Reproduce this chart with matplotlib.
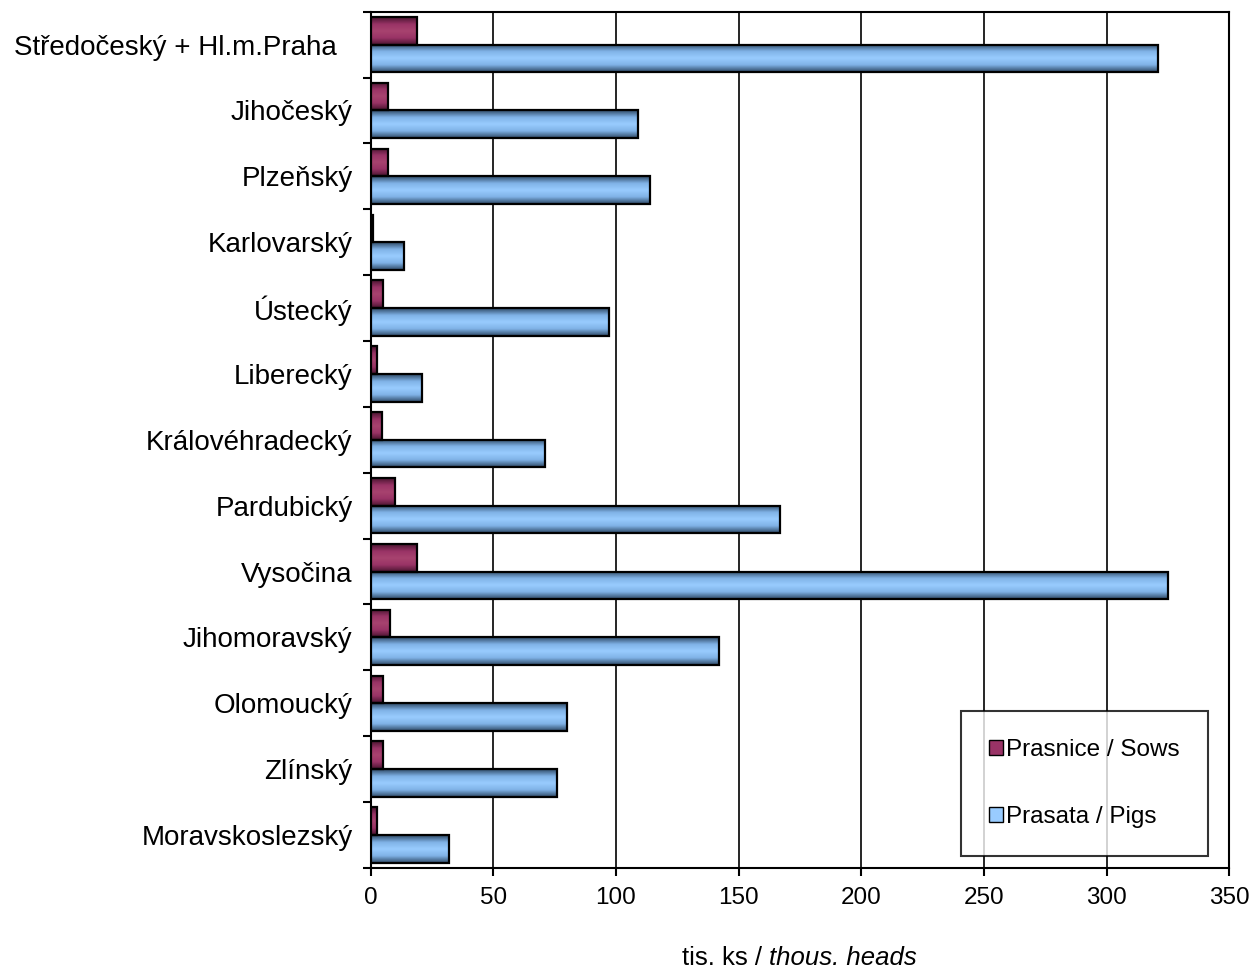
import numpy as np
import matplotlib
matplotlib.use("Agg")
import matplotlib.pyplot as plt
from matplotlib.colors import LinearSegmentedColormap

plt.rcParams['font.family'] = ['Liberation Sans', 'DejaVu Sans']

regions = ["Středočeský + Hl.m.Praha  ", "Jihočeský", "Plzeňský", "Karlovarský",
           "Ústecký", "Liberecký", "Královéhradecký", "Pardubický", "Vysočina",
           "Jihomoravský", "Olomoucký", "Zlínský", "Moravskoslezský"]
sows = [19, 7, 7, 1, 5, 2.5, 4.5, 10, 19, 8, 5, 5, 2.5]
pigs = [321, 109, 114, 13.5, 97, 21, 71, 167, 325, 142, 80, 76, 32]

fig = plt.figure(figsize=(12.52, 9.73), dpi=100)
ax = fig.add_axes([0.296, 0.108, 0.686, 0.88])

y = np.arange(len(regions))
h = 0.42
cm_sows = LinearSegmentedColormap.from_list("s", ["#4a1530", "#993366", "#a8436f", "#993366", "#4a1530"])
cm_pigs = LinearSegmentedColormap.from_list("p", ["#2f4a66", "#7fb2e6", "#99ccff", "#7fb2e6", "#2f4a66"])

b1 = ax.barh(y - h / 2, sows, height=h, facecolor='none', edgecolor='black', linewidth=1.6, zorder=4)
b2 = ax.barh(y + h / 2, pigs, height=h, facecolor='none', edgecolor='black', linewidth=1.6, zorder=4)
grad = np.linspace(0, 1, 64).reshape(-1, 1)
for bars, cm in ((b1, cm_sows), (b2, cm_pigs)):
    for r in bars:
        x0, y0 = r.get_x(), r.get_y()
        ax.imshow(grad, cmap=cm, aspect='auto', zorder=3, interpolation='bilinear',
                  extent=(x0, x0 + r.get_width(), y0 + r.get_height(), y0))

ax.set_xlim(0, 350)
ax.set_ylim(len(regions) - 0.5, -0.5)
ax.set_xticks(np.arange(0, 351, 50))
ax.grid(axis='x', color='black', linewidth=1.2, zorder=1)
ax.set_axisbelow(True)
ax.set_yticks(y)
ax.set_yticklabels(regions, fontsize=20)
ax.set_yticks(np.arange(-0.5, len(regions), 1), minor=True)
ax.tick_params(axis='y', which='major', length=0, pad=13)
ax.tick_params(axis='y', which='minor', length=6, width=1.5)
ax.tick_params(axis='x', labelsize=17.5, length=6, width=1.5, pad=8)
for s in ax.spines.values():
    s.set_linewidth(1.5)

# x axis label: plain + italic part
t1 = fig.text(0.614, 0.003, "tis. ks / ", fontsize=18.5, ha='right', va='bottom')
ax.annotate("thous. heads", xy=(1, 0), xycoords=t1, fontsize=18.5, style='italic',
            ha='left', va='bottom')

h1 = plt.Rectangle((0, 0), 1, 1, facecolor="#993366", edgecolor='black')
h2 = plt.Rectangle((0, 0), 1, 1, facecolor="#99ccff", edgecolor='black')
leg = ax.legend([h1, h2], ["Prasnice / Sows", "Prasata / Pigs"], loc='lower right',
                bbox_to_anchor=(0.975, 0.014), fontsize=17.5, frameon=True, fancybox=False,
                edgecolor='black', handlelength=0.55, handleheight=0.55, handletextpad=0.15,
                labelspacing=1.85, borderpad=1.15, borderaxespad=0)
leg.get_frame().set_linewidth(1.5)
leg.set_zorder(10)

fig.savefig("out.png", dpi=100)
